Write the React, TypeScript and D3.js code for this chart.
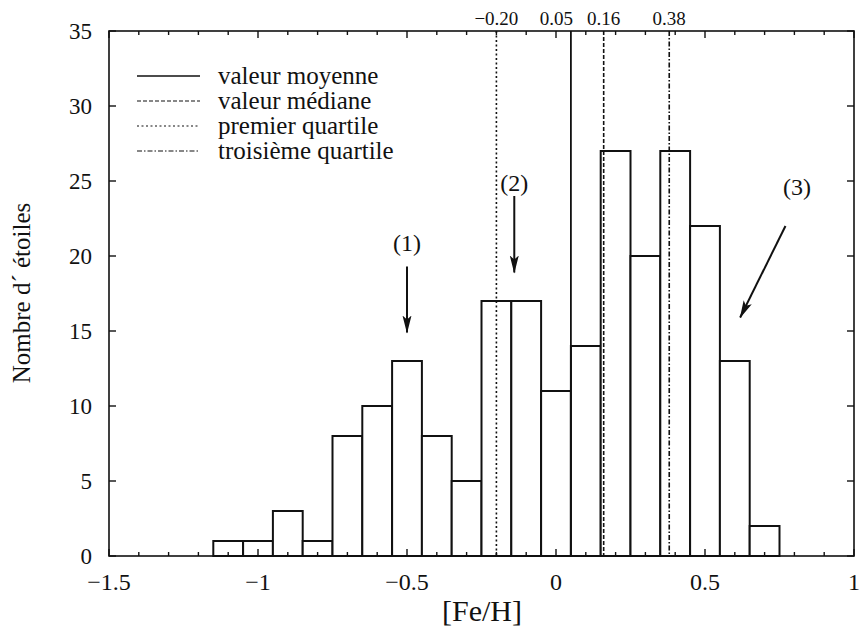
import React from "react";
import * as d3 from "d3";

const binCenters = [-1.1, -1.0, -0.9, -0.8, -0.7, -0.6, -0.5, -0.4, -0.3, -0.2, -0.1, 0.0, 0.1, 0.2, 0.3, 0.4, 0.5, 0.6, 0.7];
const counts = [1, 1, 3, 1, 8, 10, 13, 8, 5, 17, 17, 11, 14, 27, 20, 27, 22, 13, 2];
const binWidth = 0.1;

const xTicks = [-1.5, -1, -0.5, 0, 0.5, 1];
const xTickLabels = ["\u22121.5", "\u22121", "\u22120.5", "0", "0.5", "1"];
const yTicks = [0, 5, 10, 15, 20, 25, 30, 35];

const statNames = ["valeur moyenne", "valeur médiane", "premier quartile", "troisième quartile"];
const statValues = [0.05, 0.16, -0.2, 0.38];
const statLabels = ["0.05", "0.16", "\u22120.20", "0.38"];
const statDash = ["none", "4,2", "2,2.5", "5,2,1.5,2"];

const annotLabels = ["(1)", "(2)", "(3)"];
const annotTargetX = [-0.5, -0.14, 0.618];
const annotTargetY = [14.9, 18.9, 15.9];
const annotStartX = [-0.5, -0.14, 0.77];
const annotStartY = [19.3, 24.0, 22.0];

const FONT = '"Liberation Serif", "Times New Roman", serif';

export default function App() {
  const W = 862, H = 635;
  const left = 109, right = 854, top = 31, bottom = 556;
  const x = d3.scaleLinear().domain([-1.5, 1]).range([left, right]);
  const y = d3.scaleLinear().domain([0, 35]).range([bottom, top]);
  const minorX = d3.range(-1.5, 1.0001, 0.1).map((v) => Math.round(v * 10) / 10);
  const ts = (size: number) => ({ fontFamily: FONT, fontSize: size, fill: "#111" });

  return (
    <svg width={W} height={H} style={{ position: "absolute", left: 0, top: 0, background: "#fff" }}>
      <defs>
        <marker id="ah" markerWidth="18" markerHeight="10" refX="17" refY="5" orient="auto" markerUnits="userSpaceOnUse">
          <path d="M0,0.5 L18,5 L0,9.5 L4,5 Z" fill="#111" />
        </marker>
      </defs>
      <rect width={W} height={H} fill="#fff" />
      {binCenters.map((c, i) => (
        <rect key={i} x={x(c - binWidth / 2)} y={y(counts[i])} width={x(c + binWidth / 2) - x(c - binWidth / 2)}
          height={y(0) - y(counts[i])} fill="#fff" stroke="#111" strokeWidth={2} />
      ))}
      {statValues.map((v, i) => (
        <line key={i} x1={x(v)} x2={x(v)} y1={top} y2={bottom} stroke="#111"
          strokeWidth={i === 0 ? 1.8 : 1.6} strokeDasharray={statDash[i] === "none" ? undefined : statDash[i]} />
      ))}
      <rect x={left} y={top} width={right - left} height={bottom - top} fill="none" stroke="#111" strokeWidth={1.6} />
      {minorX.map((v, i) => {
        const major = Math.abs(v * 2 - Math.round(v * 2)) < 1e-6;
        const len = major ? 7 : 4;
        return (
          <g key={i}>
            <line x1={x(v)} x2={x(v)} y1={bottom} y2={bottom - len} stroke="#111" strokeWidth={1.4} />
            <line x1={x(v)} x2={x(v)} y1={top} y2={top + len} stroke="#111" strokeWidth={1.4} />
          </g>
        );
      })}
      {xTicks.map((v, i) => (
        <text key={i} x={x(v)} y={590} textAnchor="middle" style={ts(24)}>{xTickLabels[i]}</text>
      ))}
      {yTicks.map((v, i) => (
        <g key={i}>
          <line x1={left} x2={left + 7} y1={y(v)} y2={y(v)} stroke="#111" strokeWidth={1.4} />
          <line x1={right} x2={right - 7} y1={y(v)} y2={y(v)} stroke="#111" strokeWidth={1.4} />
          <text x={92} y={y(v) + 8} textAnchor="end" style={ts(23)}>{v}</text>
        </g>
      ))}
      {statValues.map((v, i) => (
        <text key={i} x={i === 0 ? x(v) + 2 : x(v)} y={25} textAnchor={i === 0 ? "end" : "middle"} style={ts(19)}>{statLabels[i]}</text>
      ))}
      {statNames.map((n, i) => (
        <g key={i}>
          <line x1={137} x2={200} y1={76 + i * 25} y2={76 + i * 25} stroke="#111"
            strokeWidth={i === 0 ? 1.6 : 1.2} strokeDasharray={statDash[i] === "none" ? undefined : statDash[i]} />
          <text x={218} y={84 + i * 25} style={ts(25)}>{n}</text>
        </g>
      ))}
      {annotLabels.map((l, i) => (
        <line key={i} x1={x(annotStartX[i])} y1={y(annotStartY[i])} x2={x(annotTargetX[i])} y2={y(annotTargetY[i])}
          stroke="#111" strokeWidth={2} markerEnd="url(#ah)" />
      ))}
      <text x={x(-0.5)} y={251} textAnchor="middle" style={ts(24)}>{annotLabels[0]}</text>
      <text x={x(-0.14)} y={191} textAnchor="middle" style={ts(24)}>{annotLabels[1]}</text>
      <text x={797} y={195} textAnchor="middle" style={ts(24)}>{annotLabels[2]}</text>
      <text x={482} y={621} textAnchor="middle" style={ts(30)}>[Fe/H]</text>
      <text transform="translate(30,293) rotate(-90)" textAnchor="middle" style={ts(25)}>Nombre d´ étoiles</text>
    </svg>
  );
}
